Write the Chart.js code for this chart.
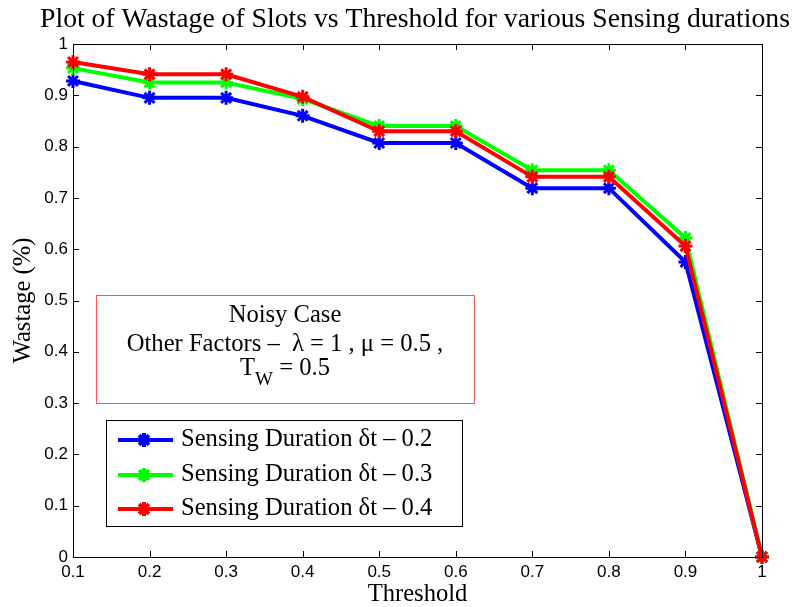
<!DOCTYPE html>
<html>
<head>
<meta charset="utf-8">
<script src="https://cdn.jsdelivr.net/npm/chart.js@4.4.1/dist/chart.umd.min.js"></script>
<style>
  html, body { margin: 0; padding: 0; background: #fff; }
  #wrap { width: 803px; height: 607px; }
</style>
</head>
<body>
<div id="wrap"><canvas id="wastage" width="803" height="607"></canvas></div>
<script>
const THRESHOLDS = [0.1, 0.2, 0.3, 0.4, 0.5, 0.6, 0.7, 0.8, 0.9, 1.0];
const WASTE_DT02 = [0.928, 0.895, 0.895, 0.860, 0.807, 0.807, 0.719, 0.719, 0.575, 0];
const WASTE_DT03 = [0.953, 0.925, 0.925, 0.893, 0.840, 0.840, 0.754, 0.754, 0.622, 0];
const WASTE_DT04 = [0.965, 0.941, 0.941, 0.897, 0.830, 0.830, 0.741, 0.741, 0.606, 0];
const LABELS = ['Sensing Duration \u03b4t \u2013 0.2', 'Sensing Duration \u03b4t \u2013 0.3', 'Sensing Duration \u03b4t \u2013 0.4'];
const COLORS = ['#0000ff', '#00ff00', '#ff0000'];
const X_TICKS = [0.1, 0.2, 0.3, 0.4, 0.5, 0.6, 0.7, 0.8, 0.9, 1];
const Y_TICKS = [0, 0.1, 0.2, 0.3, 0.4, 0.5, 0.6, 0.7, 0.8, 0.9, 1];

const SERIF = '"Liberation Serif", "Times New Roman", serif';
const SANS = '"Liberation Sans", Arial, sans-serif';
const TXT = 24.6;

function series(values, i) {
  return {
    label: LABELS[i],
    data: THRESHOLDS.map((x, k) => ({ x: x, y: values[k] })),
    borderColor: COLORS[i],
    backgroundColor: COLORS[i],
    borderWidth: 4,
    pointStyle: 'star',
    pointRadius: 7,
    pointBorderWidth: 3,
    pointBorderColor: COLORS[i],
    tension: 0,
    clip: false,
    order: 3 - i
  };
}

// matlab-ish box: inner tick marks on all four sides + top/right edges
const boxPlugin = {
  id: 'box',
  afterDatasetsDraw(chart) {
    const { ctx, chartArea: a, scales: { x, y } } = chart;
    ctx.save();
    ctx.strokeStyle = '#000';
    ctx.lineWidth = 1;
    ctx.beginPath();
    X_TICKS.forEach(v => {
      const px = Math.round(x.getPixelForValue(v)) + 0.5;
      ctx.moveTo(px, a.bottom); ctx.lineTo(px, a.bottom - 6);
      ctx.moveTo(px, a.top); ctx.lineTo(px, a.top + 6);
    });
    Y_TICKS.forEach(v => {
      const py = Math.round(y.getPixelForValue(v)) + 0.5;
      ctx.moveTo(a.left, py); ctx.lineTo(a.left + 6, py);
      ctx.moveTo(a.right, py); ctx.lineTo(a.right - 6, py);
    });
    ctx.stroke();
    ctx.beginPath();
    ctx.rect(Math.round(a.left) + 0.5, Math.round(a.top) + 0.5, Math.round(a.right - a.left), Math.round(a.bottom - a.top));
    ctx.stroke();
    ctx.restore();
  },
  afterDraw(chart) {
    const { ctx } = chart;
    ctx.save();
    // title
    ctx.fillStyle = '#000';
    ctx.font = '27.7px ' + SERIF;
    ctx.textAlign = 'center';
    ctx.textBaseline = 'middle';
    ctx.fillText('Plot of Wastage of Slots vs Threshold for various Sensing durations', 415, 20);

    // annotation box
    ctx.fillStyle = '#fff';
    ctx.fillRect(97, 296, 377, 108);
    ctx.strokeStyle = '#ff5555';
    ctx.lineWidth = 1;
    ctx.strokeRect(96.5, 295.5, 378, 108);
    ctx.fillStyle = '#000';
    ctx.font = TXT + 'px ' + SERIF;
    ctx.fillText('Noisy Case', 285, 316);
    ctx.fillText('Other Factors \u2013  \u03bb = 1 , \u03bc = 0.5 ,', 285, 345);
    // T_W = 0.5 with subscript
    const tw = 'T', sub = 'W', rest = ' = 0.5';
    const wT = ctx.measureText(tw).width, wR = ctx.measureText(rest).width;
    ctx.font = '19px ' + SERIF;
    const wS = ctx.measureText(sub).width;
    const sx = 285 - (wT + wS + wR) / 2;
    ctx.textAlign = 'left';
    ctx.font = TXT + 'px ' + SERIF;
    ctx.fillText(tw, sx, 369);
    ctx.font = '19px ' + SERIF;
    ctx.fillText(sub, sx + wT, 380);
    ctx.font = TXT + 'px ' + SERIF;
    ctx.fillText(rest, sx + wT + wS, 369);

    // legend
    ctx.fillStyle = '#fff';
    ctx.fillRect(107, 421, 355, 105);
    ctx.strokeStyle = '#000';
    ctx.strokeRect(106.5, 420.5, 356, 106);
    const rows = [440, 475, 509];
    chart.data.datasets.forEach((ds, i) => {
      const yy = rows[i];
      ctx.strokeStyle = ds.borderColor;
      ctx.fillStyle = ds.borderColor;
      ctx.lineWidth = 4;
      ctx.beginPath();
      ctx.moveTo(118, yy); ctx.lineTo(173, yy);
      ctx.stroke();
      Chart.helpers.drawPoint(ctx, { pointStyle: 'star', radius: 7, borderWidth: 3 }, 144, yy);
      ctx.fillStyle = '#000';
      ctx.font = TXT + 'px ' + SERIF;
      ctx.textAlign = 'left';
      ctx.fillText(ds.label, 181, yy);
    });
    ctx.restore();
  }
};

new Chart(document.getElementById('wastage').getContext('2d'), {
  type: 'line',
  data: {
    datasets: [series(WASTE_DT02, 0), series(WASTE_DT03, 1), series(WASTE_DT04, 2)]
  },
  options: {
    responsive: false,
    animation: false,
    layout: { padding: { top: 44, right: 41, left: 0, bottom: 0 } },
    plugins: { legend: { display: false }, title: { display: false }, tooltip: { enabled: false } },
    scales: {
      x: {
        type: 'linear',
        min: 0.1,
        max: 1,
        afterFit: s => { s.height = 50; },
        afterBuildTicks: s => { s.ticks = X_TICKS.map(v => ({ value: v })); },
        ticks: {
          color: '#000',
          font: { family: SANS, size: 17 },
          padding: 5,
          maxRotation: 0,
          autoSkip: false,
          callback: v => String(Number(v.toFixed(1)))
        },
        grid: { display: true, drawOnChartArea: false, drawTicks: false },
        border: { display: true, color: '#000', width: 1 },
        title: {
          display: true,
          text: 'Threshold',
          color: '#000',
          font: { family: SERIF, size: TXT, lineHeight: 1 },
          padding: { top: 0, bottom: 0 }
        }
      },
      y: {
        min: 0,
        max: 1,
        afterFit: s => { s.width = 73; },
        afterBuildTicks: s => { s.ticks = Y_TICKS.map(v => ({ value: v })); },
        ticks: {
          color: '#000',
          font: { family: SANS, size: 17 },
          padding: 5,
          autoSkip: false,
          callback: v => String(Number(v.toFixed(1)))
        },
        grid: { display: true, drawOnChartArea: false, drawTicks: false },
        border: { display: true, color: '#000', width: 1 },
        title: {
          display: true,
          text: 'Wastage (%)',
          color: '#000',
          font: { family: SERIF, size: TXT, lineHeight: 1.2 },
          padding: { top: 9, bottom: 0 }
        }
      }
    }
  },
  plugins: [boxPlugin]
});
</script>
</body>
</html>
